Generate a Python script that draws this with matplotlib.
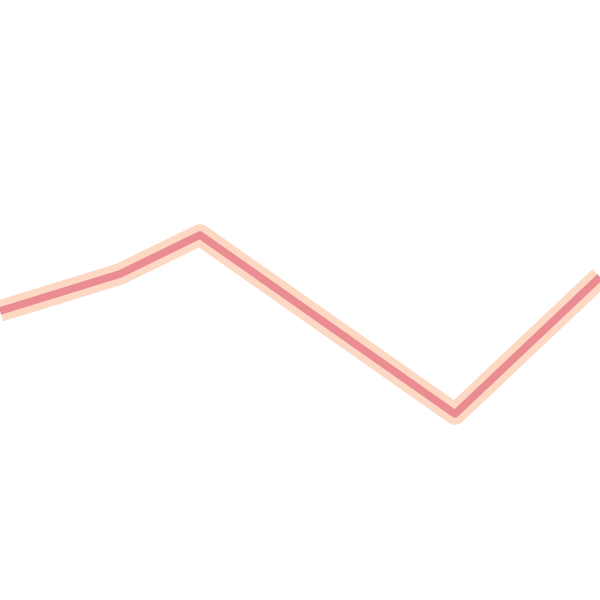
import matplotlib
matplotlib.use("Agg")
import matplotlib.pyplot as plt

# values (no axes shown, so kept in picture units)
x_vals = [0, 120, 200, 455, 600]
y_vals = [311, 274, 235, 414, 277]

glow_color = "#fdd8c2"
line_color = "#e8848c"

fig = plt.figure(figsize=(6, 6), dpi=100)
ax = fig.add_axes([0, 0, 1, 1])

# soft outer band, then the red core on top
ax.plot(x_vals, y_vals, color=glow_color, lw=15.5, solid_joinstyle="round", solid_capstyle="butt")
ax.plot(x_vals, y_vals, color=line_color, lw=5.5, alpha=0.9, solid_joinstyle="round", solid_capstyle="butt")

ax.set_xlim(0, 600)
ax.set_ylim(600, 0)
ax.axis("off")

fig.savefig("out.png", dpi=100, facecolor="white")
